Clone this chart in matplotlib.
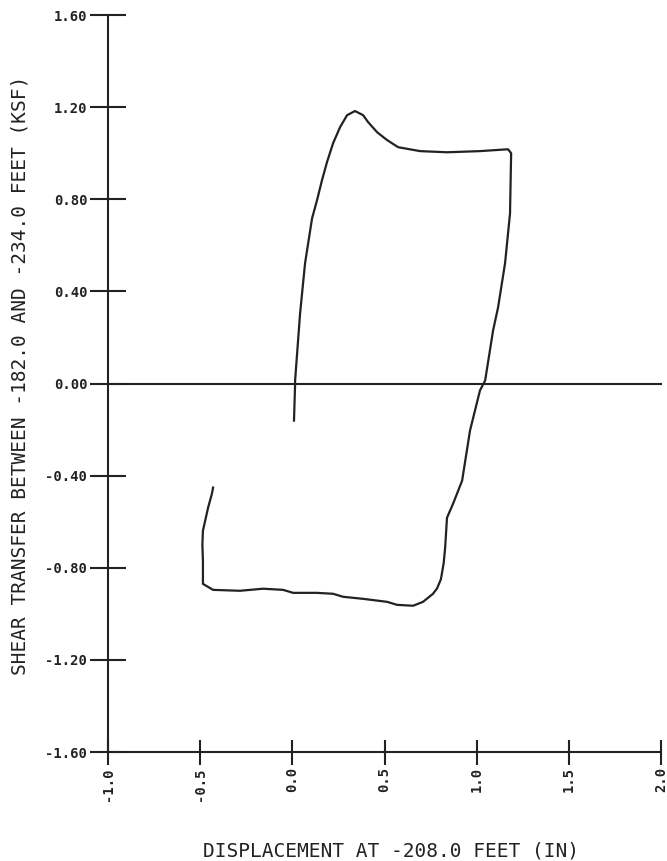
import matplotlib.pyplot as plt
import numpy as np

# Shear transfer vs. displacement loop
disp = [0.009, 0.015, 0.015, 0.042, 0.069, 0.107, 0.134, 0.161, 0.188, 0.221,
        0.259, 0.297, 0.340, 0.384, 0.411, 0.460, 0.514, 0.574, 0.693, 0.839,
        1.018, 1.170, 1.187, 1.181, 1.154, 1.116, 1.089, 1.046, 1.018, 0.964,
        0.921, 0.872, 0.839, 0.829, 0.821, 0.806, 0.785, 0.763, 0.709, 0.655,
        0.568, 0.514, 0.384, 0.275, 0.221, 0.134, 0.004, -0.050, -0.159, -0.284,
        -0.430, -0.485, -0.485, -0.488, -0.485, -0.457, -0.436, -0.430]
shear = [-0.161, -0.004, 0.013, 0.304, 0.522, 0.717, 0.796, 0.883, 0.961, 1.043,
         1.113, 1.165, 1.183, 1.165, 1.135, 1.091, 1.057, 1.026, 1.009, 1.004,
         1.009, 1.017, 1.000, 0.739, 0.522, 0.330, 0.230, 0.013, -0.030, -0.204,
         -0.422, -0.522, -0.583, -0.713, -0.780, -0.850, -0.890, -0.913, -0.948, -0.965,
         -0.961, -0.948, -0.935, -0.926, -0.913, -0.909, -0.909, -0.896, -0.891, -0.900,
         -0.896, -0.870, -0.770, -0.700, -0.639, -0.539, -0.478, -0.452]

xticks = [-1.0, -0.5, 0.0, 0.5, 1.0, 1.5, 2.0]
yticks = [-1.6, -1.2, -0.8, -0.4, 0.0, 0.4, 0.8, 1.2, 1.6]

fig = plt.figure(figsize=(6.67, 8.61), dpi=100)
ax = fig.add_axes([108/667, 1 - 752/861, (661-108)/667, (752-15)/861])

ink = '#222222'
ax.plot(disp, shear, color=ink, lw=1.6)
ax.plot([-1.0, 2.0], [0.0, 0.0], color=ink, lw=1.5, clip_on=False)

ax.set_xlim(-1.0, 2.0)
ax.set_ylim(-1.6, 1.6)
for s in ['top', 'right']:
	ax.spines[s].set_visible(False)
for s in ['left', 'bottom']:
	ax.spines[s].set_linewidth(1.5)
	ax.spines[s].set_color(ink)

ax.set_xticks(xticks)
ax.set_xticklabels([f"{v:.1f}" for v in xticks], rotation=90,
                   family='DejaVu Sans Mono', fontweight='bold', fontsize=10)
ax.set_yticks(yticks)
ax.set_yticklabels([f"{v:.2f}" for v in yticks],
                   family='DejaVu Sans Mono', fontweight='bold', fontsize=10)
ax.tick_params(axis='x', direction='inout', length=18, width=1.5, color=ink, pad=2, labelcolor=ink)
ax.tick_params(axis='y', direction='inout', length=26, width=1.5, color=ink, pad=2, labelcolor=ink)

fig.text(20/667, 1 - 375/861, "SHEAR TRANSFER BETWEEN -182.0 AND -234.0 FEET (KSF)",
         rotation=90, ha='center', va='center', family='DejaVu Sans Mono', fontsize=14, color=ink)
fig.text(391/667, 1 - 851/861, "DISPLACEMENT AT -208.0 FEET (IN)",
         ha='center', va='center', family='DejaVu Sans Mono', fontsize=14, color=ink)

fig.savefig("out.png", dpi=100)
